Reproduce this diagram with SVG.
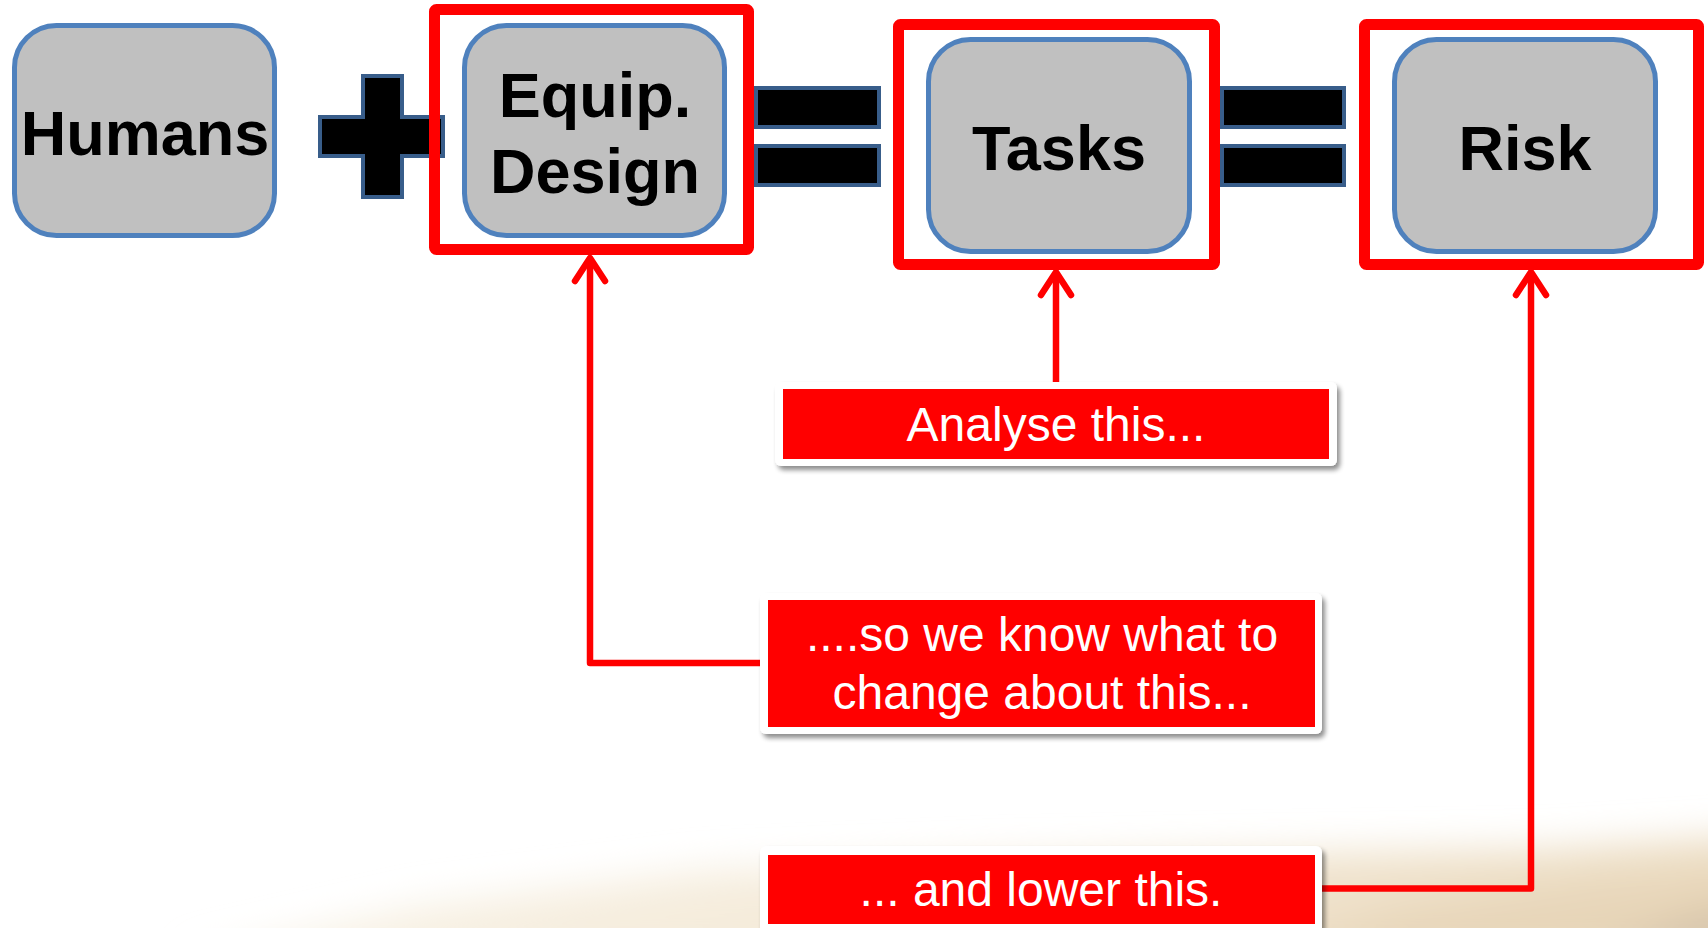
<svg xmlns="http://www.w3.org/2000/svg" width="1708" height="928" viewBox="0 0 1708 928">
  <style>
    .node-box { fill: #C0C0C0; stroke: #4F81BD; stroke-width: 5; }
    .node-text { font-family: "Liberation Sans", Arial, sans-serif; font-weight: bold; font-size: 63px; fill: #000000; text-anchor: middle; }
    .frame { fill: none; stroke: #FF0000; stroke-width: 11; stroke-linejoin: round; }
    .op { fill: #000000; stroke: #385D8A; stroke-width: 4; }
    .callout-border { fill: #FFFFFF; filter: url(#shadow); }
    .callout { fill: #FF0000; }
    .callout-text { font-family: "Liberation Sans", Arial, sans-serif; font-size: 48px; fill: #FFFFFF; text-anchor: middle; }
    .link { fill: none; stroke: #FF0000; stroke-width: 6.5; stroke-linejoin: round; }
    .head { fill: none; stroke: #FF0000; stroke-width: 6.5; stroke-linecap: round; stroke-linejoin: round; }
  </style>
  <defs>
    <filter id="shadow" x="-5%" y="-20%" width="112%" height="150%">
      <feGaussianBlur in="SourceAlpha" stdDeviation="2.5"/>
      <feOffset dx="3" dy="4" result="off"/>
      <feComponentTransfer><feFuncA type="linear" slope="0.45"/></feComponentTransfer>
      <feMerge><feMergeNode/><feMergeNode in="SourceGraphic"/></feMerge>
    </filter>
    <filter id="haze" x="-20%" y="-50%" width="140%" height="200%">
      <feGaussianBlur stdDeviation="18"/>
    </filter>
    <linearGradient id="sand" x1="0" y1="0" x2="1" y2="0.3">
      <stop offset="0" stop-color="#FCFAF2"/>
      <stop offset="0.5" stop-color="#F5ECDC"/>
      <stop offset="1" stop-color="#EBDBC0"/>
    </linearGradient>
  </defs>

  <!-- page background with a soft sandy horizon along the bottom -->
  <rect x="0" y="0" width="1708" height="928" fill="#FFFFFF"/>
  <g id="backdrop" filter="url(#haze)">
    <path d="M180,960 L420,905 L700,870 L1000,858 L1300,852 L1550,848 L1760,835 L1760,960 Z" fill="url(#sand)"/>
    <path d="M1250,960 L1400,910 L1600,885 L1760,875 L1760,960 Z" fill="#E6D3B5" opacity="0.7"/>
    <path d="M1580,960 L1700,912 L1760,905 L1760,960 Z" fill="#CDBBA2" opacity="0.6"/>
  </g>

  <!-- operators between the terms -->
  <g id="plus">
    <path class="op" d="M363,76 H402 V117 H443 V156 H402 V197 H363 V156 H320 V117 H363 Z"/>
  </g>
  <g id="equals-1">
    <rect class="op" x="756" y="88" width="123" height="39"/>
    <rect class="op" x="756" y="146" width="123" height="39"/>
  </g>
  <g id="equals-2">
    <rect class="op" x="1222" y="88" width="122" height="39"/>
    <rect class="op" x="1222" y="146" width="122" height="39"/>
  </g>

  <!-- terms -->
  <g id="humans">
    <rect class="node-box" x="14.5" y="25.5" width="260" height="210" rx="42"/>
    <text class="node-text" x="145" y="155">Humans</text>
  </g>
  <g id="equip-design">
    <rect class="frame" x="434.5" y="9.5" width="314" height="240" rx="2"/>
    <rect class="node-box" x="464.5" y="25.5" width="260" height="210" rx="42"/>
    <text class="node-text" x="595" y="117">Equip.</text>
    <text class="node-text" x="595" y="193">Design</text>
  </g>
  <g id="tasks">
    <rect class="frame" x="898.5" y="24.5" width="316" height="240" rx="2"/>
    <rect class="node-box" x="928.5" y="39.5" width="261" height="212" rx="42"/>
    <text class="node-text" x="1059" y="170">Tasks</text>
  </g>
  <g id="risk">
    <rect class="frame" x="1364.5" y="24.5" width="334" height="240" rx="2"/>
    <rect class="node-box" x="1394.5" y="39.5" width="261" height="212" rx="42"/>
    <text class="node-text" x="1525" y="170">Risk</text>
  </g>

  <!-- connectors from the notes up to the framed terms -->
  <g id="connectors">
    <path class="link" d="M764,663 H590 V262"/>
    <path class="head" d="M575,281 L590,258 L605,281"/>
    <path class="link" d="M1056,384 V276"/>
    <path class="head" d="M1041,295 L1056,272 L1071,295"/>
    <path class="link" d="M1318,888.5 H1531 V276"/>
    <path class="head" d="M1516,295 L1531,272 L1546,295"/>
  </g>

  <!-- notes -->
  <g id="note-analyse">
    <rect class="callout-border" x="775" y="382" width="562" height="84" rx="6"/>
    <rect class="callout" x="783" y="389" width="546" height="70"/>
    <text class="callout-text" x="1056" y="441">Analyse this...</text>
  </g>
  <g id="note-change">
    <rect class="callout-border" x="760" y="593" width="562" height="141" rx="6"/>
    <rect class="callout" x="768" y="600" width="547" height="127"/>
    <text class="callout-text" x="1042" y="651">....so we know what to</text>
    <text class="callout-text" x="1042" y="709">change about this...</text>
  </g>
  <g id="note-lower">
    <rect class="callout-border" x="760" y="846" width="562" height="100" rx="6"/>
    <rect class="callout" x="768" y="855" width="547" height="69"/>
    <text class="callout-text" x="1041" y="906">... and lower this.</text>
  </g>
</svg>
